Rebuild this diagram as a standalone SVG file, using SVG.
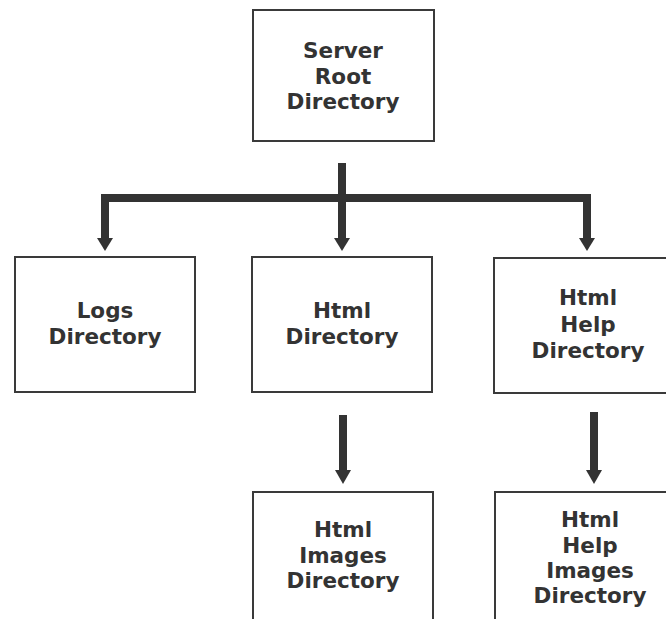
<svg xmlns="http://www.w3.org/2000/svg" width="666" height="619" viewBox="0 0 666 619">
<style>
.box{fill:#fff;stroke:#3a3a3a;stroke-width:2}
.t{font-family:"DejaVu Sans",Verdana,sans-serif;font-weight:bold;font-size:21.5px;fill:#333;text-anchor:middle}
.c{fill:none;stroke:#333;stroke-width:8;stroke-linejoin:miter}
.h{fill:#333}
</style>
<rect width="666" height="619" fill="#fff"/>
<g id="connectors">
<path class="c" d="M342 163V240M105 240V198H587V240"/>
<polygon class="h" points="97,238 113,238 105,251"/>
<polygon class="h" points="334,238 350,238 342,251"/>
<polygon class="h" points="579,238 595,238 587,251"/>
<path class="c" d="M343 415V472"/>
<polygon class="h" points="335,470 351,470 343,484"/>
<path class="c" d="M594 412V472"/>
<polygon class="h" points="586,470 602,470 594,484"/>
</g>
<g id="root">
<rect class="box" x="253" y="10" width="181" height="131"/>
<text class="t" x="343" y="58">Server</text>
<text class="t" x="343" y="84">Root</text>
<text class="t" x="343" y="109">Directory</text>
</g>
<g id="logs">
<rect class="box" x="15" y="257" width="180" height="135"/>
<text class="t" x="105" y="318">Logs</text>
<text class="t" x="105" y="344">Directory</text>
</g>
<g id="html">
<rect class="box" x="252" y="257" width="180" height="135"/>
<text class="t" x="342" y="318">Html</text>
<text class="t" x="342" y="344">Directory</text>
</g>
<g id="htmlhelp">
<rect class="box" x="494" y="258" width="180" height="135"/>
<text class="t" x="588" y="305">Html</text>
<text class="t" x="588" y="332">Help</text>
<text class="t" x="588" y="358">Directory</text>
</g>
<g id="htmlimages">
<rect class="box" x="253" y="492" width="180" height="140"/>
<text class="t" x="343" y="537">Html</text>
<text class="t" x="343" y="563">Images</text>
<text class="t" x="343" y="588">Directory</text>
</g>
<g id="htmlhelpimages">
<rect class="box" x="495" y="492" width="180" height="140"/>
<text class="t" x="590" y="527">Html</text>
<text class="t" x="590" y="553">Help</text>
<text class="t" x="590" y="578">Images</text>
<text class="t" x="590" y="603">Directory</text>
</g>
</svg>
